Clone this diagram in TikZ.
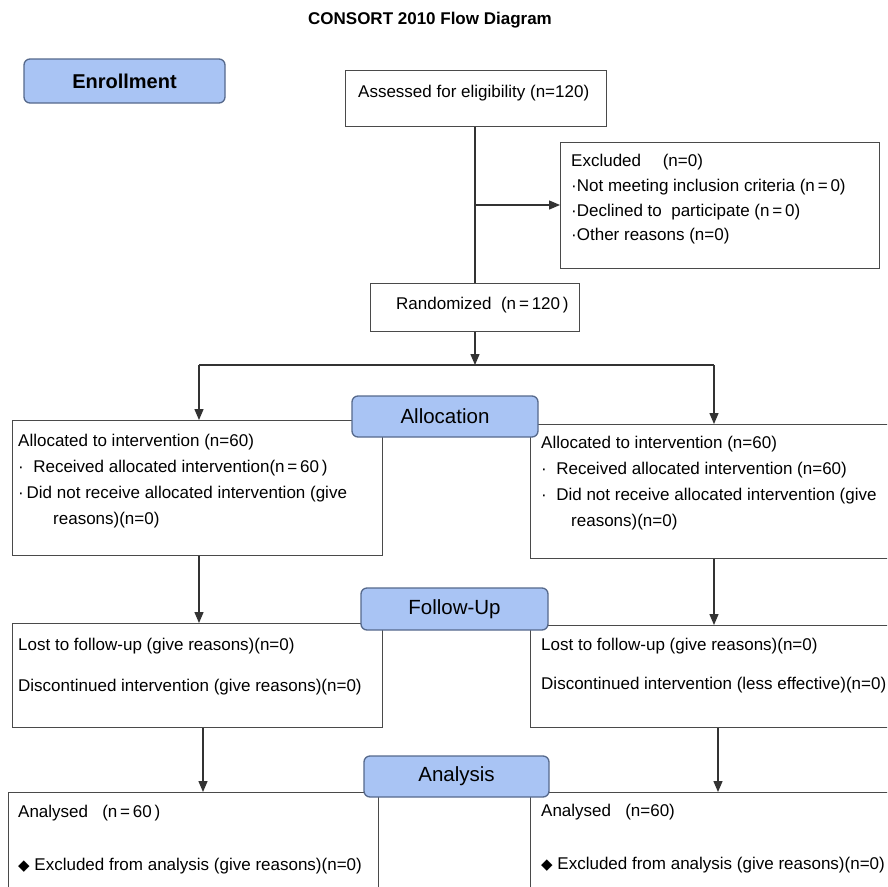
\documentclass[tikz,border=0pt]{standalone}
\usepackage{fontspec}
\setmainfont{Liberation Sans}
\newfontfamily\symfont{DejaVu Sans}
\usetikzlibrary{arrows.meta}
\definecolor{stagefill}{HTML}{A9C4F4}
\definecolor{stageline}{HTML}{56698C}
\definecolor{boxline}{HTML}{4A4A4A}
\definecolor{lineclr}{HTML}{333333}
\begin{document}
\begin{tikzpicture}[x=1pt,y=-1pt,
  box/.style={draw=boxline, line width=1.3pt, fill=white, rectangle, inner sep=0pt, anchor=north west},
  stage/.style={draw=stageline, line width=1.3pt, fill=stagefill, rounded corners=6pt, inner sep=0pt, font=\fontsize{20.5}{24}\selectfont},
  txt/.style={anchor=base west, inner sep=0pt, font=\fontsize{17}{20}\selectfont},
  conn/.style={draw=lineclr, line width=1.3pt},
  arr/.style={conn, -{Triangle[length=11pt,width=9pt]}},
]
\clip (0,0) rectangle (887,887);
\fill[white] (0,0) rectangle (887,887);

% title
\node[font=\bfseries\fontsize{17}{20}\selectfont, inner sep=0pt] (title) at (430,20) {CONSORT 2010 Flow Diagram};

% boxes
\node[box, minimum width=261pt, minimum height=56pt] (assess) at (345,70) {};
\node[box, minimum width=319pt, minimum height=126pt] (excl) at (560,142) {};
\node[box, minimum width=209pt, minimum height=48pt] (random) at (370,283) {};
\node[box, minimum width=370pt, minimum height=135pt] (allocL) at (12,420) {};
\node[box, minimum width=370pt, minimum height=134pt] (allocR) at (530,424) {};
\node[box, minimum width=370pt, minimum height=104pt] (followL) at (12,623) {};
\node[box, minimum width=370pt, minimum height=102pt] (followR) at (530,625) {};
\node[box, minimum width=370pt, minimum height=120pt] (anaL) at (8,792) {};
\node[box, minimum width=370pt, minimum height=120pt] (anaR) at (530,792) {};

% texts
\node[txt] (t1) at (358,97) {Assessed for eligibility (n=120)};
\node[txt] (e1) at (571,166) {Excluded\quad\ (n=0)};
\node[txt] (e2) at (571,191) {·Not meeting inclusion criteria (n\,=\,0)};
\node[txt] (e3) at (571,216) {·Declined to\ \ participate (n\,=\,0)};
\node[txt] (e4) at (571,240) {·Other reasons (n=0)};
\node[txt] (r1) at (396,309) {Randomized\ \ (n\,=\,120\,)};

\node[txt] (al1) at (18,446) {Allocated to intervention (n=60)};
\node[txt] (al2) at (18,472) {·\ \ Received allocated intervention(n\,=\,60\,)};
\node[txt] (al3) at (18,498) {·\,Did not receive allocated intervention (give};
\node[txt] (al4) at (53,524) {reasons)(n=0)};
\node[txt] (ar1) at (541,448) {Allocated to intervention (n=60)};
\node[txt] (ar2) at (541,474) {·\ \ Received allocated intervention (n=60)};
\node[txt] (ar3) at (541,500) {·\ \ Did not receive allocated intervention (give};
\node[txt] (ar4) at (571,526) {reasons)(n=0)};

\node[txt] (fl1) at (18,650) {Lost to follow-up (give reasons)(n=0)};
\node[txt] (fl2) at (18,691) {Discontinued intervention (give reasons)(n=0)};
\node[txt] (fr1) at (541,650) {Lost to follow-up (give reasons)(n=0)};
\node[txt] (fr2) at (541,689) {Discontinued intervention (less effective)(n=0)};

\node[txt] (nl1) at (18,817) {Analysed\ \ \ (n\,=\,60\,)};
\node[txt] (nl2) at (18,870) {{\symfont\fontsize{15}{15}\selectfont ◆}\ Excluded from analysis (give reasons)(n=0)};
\node[txt] (nr1) at (541,816) {Analysed\ \ \ (n=60)};
\node[txt] (nr2) at (541,869) {{\symfont\fontsize{15}{15}\selectfont ◆}\ Excluded from analysis (give reasons)(n=0)};

% connectors
\coordinate (branch) at (475,205);
\coordinate (junc) at (475,365);
\coordinate (jl) at (199,365);
\coordinate (jr) at (714,365);
\draw[conn] (assess.south -| branch) -- (random.north -| branch);
\draw[arr] (branch) -- (branch -| excl.west);
\draw[arr] (random.south -| junc) -- (junc);
\draw[conn] (jl) -- (jr);
\draw[arr] (jl) -- ([xshift=187pt]allocL.north west);
\draw[arr] (jr) -- ([xshift=184pt]allocR.north west);
\draw[arr] ([xshift=187pt]allocL.south west) -- ([xshift=187pt]followL.north west);
\draw[arr] ([xshift=184pt]allocR.south west) -- ([xshift=184pt]followR.north west);
\draw[arr] ([xshift=191pt]followL.south west) -- ([xshift=195pt]anaL.north west);
\draw[arr] ([xshift=188pt]followR.south west) -- ([xshift=188pt]anaR.north west);

% stage labels
\node[stage, minimum width=201pt, minimum height=44pt, font=\bfseries\fontsize{20}{24}\selectfont] (enroll) at (124.5,81) {Enrollment};
\node[stage, minimum width=186pt, minimum height=41pt] (alloc) at (445,416.5) {Allocation};
\node[stage, minimum width=187pt, minimum height=42pt] (follow) at (454.5,609) {Follow-Up};
\node[stage, minimum width=185pt, minimum height=41pt] (analysis) at (456.5,776.5) {Analysis};
\end{tikzpicture}
\end{document}
